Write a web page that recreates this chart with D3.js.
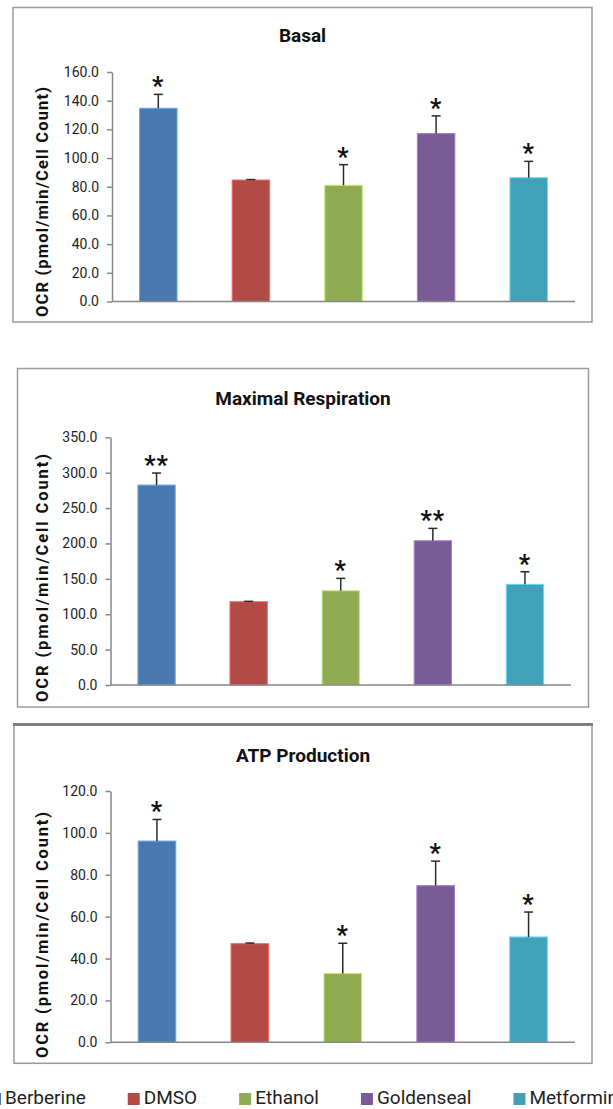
<!DOCTYPE html>
<html>
<head>
<meta charset="utf-8">
<script src="https://cdn.jsdelivr.net/npm/d3@7"></script>
<style>
  body { margin: 0; background: #fff; }
  svg { display: block; font-family: Roboto, 'Liberation Sans', sans-serif; }
</style>
</head>
<body>
<div id="chart"></div>
<script>
'use strict';

// treatment groups and colours
const categories = ['Berberine', 'DMSO', 'Ethanol', 'Goldenseal', 'Metformin'];
const colors = ['#4a78b0', '#b24b47', '#8fac52', '#795b96', '#43a0b9'];

// Basal OCR
const basalMeans = [134.7, 84.7, 81.0, 117.1, 86.3];
const basalErrors = [9.7, 0.3, 14.4, 12.3, 11.4];
const basalStars = ['*', '', '*', '*', '*'];
const basalTicks = [0, 20, 40, 60, 80, 100, 120, 140, 160];

// Maximal respiration OCR
const maximalMeans = [282.5, 117.7, 133.2, 203.8, 142.2];
const maximalErrors = [17.0, 0.5, 17.5, 17.5, 17.8];
const maximalStars = ['**', '', '*', '**', '*'];
const maximalTicks = [0, 50, 100, 150, 200, 250, 300, 350];

// ATP production OCR
const atpMeans = [96.1, 47.1, 32.9, 74.8, 50.3];
const atpErrors = [10.3, 0.3, 14.4, 11.7, 11.9];
const atpStars = ['*', '', '*', '*', '*'];
const atpTicks = [0, 20, 40, 60, 80, 100, 120];

const yLabel = 'OCR (pmol/min/Cell Count)';

const width = 613;
const height = 1109;

let panels = [
  {
    title: 'Basal', means: basalMeans, errors: basalErrors, stars: basalStars, ticks: basalTicks,
    frame: [13, 7.5, 592, 322], topBorder: 1.5,
    x0: 112, x1: 575, yTop: 72, yBottom: 301.5,
    titleY: 41.5, labelY: 202, labelLength: 230
  },
  {
    title: 'Maximal Respiration', means: maximalMeans, errors: maximalErrors, stars: maximalStars, ticks: maximalTicks,
    frame: [17.5, 368.5, 588.5, 707], topBorder: 1.5,
    x0: 110.5, x1: 571, yTop: 437.3, yBottom: 685,
    titleY: 405, labelY: 578, labelLength: 248
  },
  {
    title: 'ATP Production', means: atpMeans, errors: atpErrors, stars: atpStars, ticks: atpTicks,
    frame: [14, 724.5, 592, 1063.3], topBorder: 3,
    x0: 110.5, x1: 575, yTop: 791, yBottom: 1042.3,
    titleY: 762.3, labelY: 935, labelLength: 246
  }
];

let svg = d3
  .select('#chart')
  .append('svg')
  .attr('width', width)
  .attr('height', height);

svg
  .append('rect')
  .attr('width', width)
  .attr('height', height)
  .attr('fill', '#fff');

panels.forEach(function(p) {
  drawPanel(p);
});

drawLegend();

function drawPanel(p) {
  let g = svg.append('g');
  let f = p.frame;

  // chart area border
  g.append('rect')
    .attr('x', f[0])
    .attr('y', f[1])
    .attr('width', f[2] - f[0])
    .attr('height', f[3] - f[1])
    .attr('fill', 'none')
    .attr('stroke', '#9a9a9a')
    .attr('stroke-width', 1.5);

  if (p.topBorder > 1.5) {
    g.append('line')
      .attr('x1', f[0] - 1)
      .attr('x2', f[2] + 1)
      .attr('y1', f[1])
      .attr('y2', f[1])
      .attr('stroke', '#7f7f7f')
      .attr('stroke-width', p.topBorder);
  }

  g.append('text')
    .attr('x', (f[0] + f[2]) / 2)
    .attr('y', p.titleY)
    .attr('text-anchor', 'middle')
    .attr('font-size', '19px')
    .attr('font-weight', 'bold')
    .attr('fill', '#111')
    .text(p.title);

  let x = d3
    .scaleBand()
    .domain(categories)
    .range([p.x0, p.x1])
    .paddingInner(0.595)
    .paddingOuter(0.2975);

  let y = d3
    .scaleLinear()
    .domain([0, d3.max(p.ticks)])
    .range([p.yBottom, p.yTop]);

  let yAxis = g
    .append('g')
    .attr('transform', 'translate(' + p.x0 + ',0)')
    .call(
      d3.axisLeft(y)
        .tickValues(p.ticks)
        .tickFormat(d3.format('.1f'))
        .tickSize(5)
        .tickSizeOuter(0)
        .tickPadding(8)
    );
  yAxis.select('.domain').attr('stroke', '#868686').attr('stroke-width', 1.5);
  yAxis.selectAll('.tick line').attr('stroke', '#868686').attr('stroke-width', 1.5);
  yAxis.selectAll('.tick text')
    .attr('fill', '#1e1e1e')
    .attr('font-size', '14px')
    .attr('font-family', 'Roboto, sans-serif');

  // bars
  g.selectAll('.bar')
    .data(categories)
    .enter()
    .append('rect')
    .attr('class', 'bar')
    .attr('x', function(d) { return x(d); })
    .attr('y', function(d, i) { return y(p.means[i]); })
    .attr('width', x.bandwidth())
    .attr('height', function(d, i) { return y(0) - y(p.means[i]); })
    .attr('fill', function(d, i) { return colors[i]; })
    .attr('stroke', function(d, i) { return d3.color(colors[i]).brighter(0.9); })
    .attr('stroke-width', 1);

  // category axis line
  g.append('line')
    .attr('x1', p.x0)
    .attr('x2', p.x1)
    .attr('y1', y(0))
    .attr('y2', y(0))
    .attr('stroke', '#868686')
    .attr('stroke-width', 1.5);

  // error bars, upper half only
  let err = g.selectAll('.err')
    .data(categories)
    .enter()
    .append('g')
    .attr('class', 'err')
    .attr('stroke', '#2b2b2b')
    .attr('stroke-width', 1.5);

  err.append('line')
    .attr('x1', function(d) { return x(d) + x.bandwidth() / 2; })
    .attr('x2', function(d) { return x(d) + x.bandwidth() / 2; })
    .attr('y1', function(d, i) { return y(p.means[i]); })
    .attr('y2', function(d, i) { return y(p.means[i] + p.errors[i]); });

  err.append('line')
    .attr('x1', function(d) { return x(d) + x.bandwidth() / 2 - 4.5; })
    .attr('x2', function(d) { return x(d) + x.bandwidth() / 2 + 4.5; })
    .attr('y1', function(d, i) { return y(p.means[i] + p.errors[i]); })
    .attr('y2', function(d, i) { return y(p.means[i] + p.errors[i]); });

  // significance marks
  g.selectAll('.star')
    .data(categories)
    .enter()
    .append('text')
    .attr('class', 'star')
    .attr('x', function(d) { return x(d) + x.bandwidth() / 2; })
    .attr('y', function(d, i) { return y(p.means[i] + p.errors[i]) + 1; })
    .attr('text-anchor', 'middle')
    .attr('font-size', '25px')
    .attr('font-weight', 'bold')
    .attr('letter-spacing', '1px')
    .attr('fill', '#111')
    .text(function(d, i) { return p.stars[i]; });

  g.append('text')
    .attr('transform', 'translate(' + 48 + ',' + p.labelY + ') rotate(-90)')
    .attr('text-anchor', 'middle')
    .attr('font-size', '16.5px')
    .attr('font-weight', 'bold')
    .attr('fill', '#111')
    .attr('textLength', p.labelLength)
    .text(yLabel);
}

function drawLegend() {
  let legend = svg.append('g');
  let cx = -11;
  categories.forEach(function(name, i) {
    legend.append('rect')
      .attr('x', cx)
      .attr('y', 1093)
      .attr('width', 12)
      .attr('height', 12)
      .attr('fill', colors[i]);
    let label = legend.append('text')
      .attr('x', cx + 16)
      .attr('y', 1104)
      .attr('font-size', '19px')
      .attr('fill', '#1e1e1e')
      .text(name);
    cx += 16 + label.node().getComputedTextLength() + 42;
  });
}
</script>
</body>
</html>
